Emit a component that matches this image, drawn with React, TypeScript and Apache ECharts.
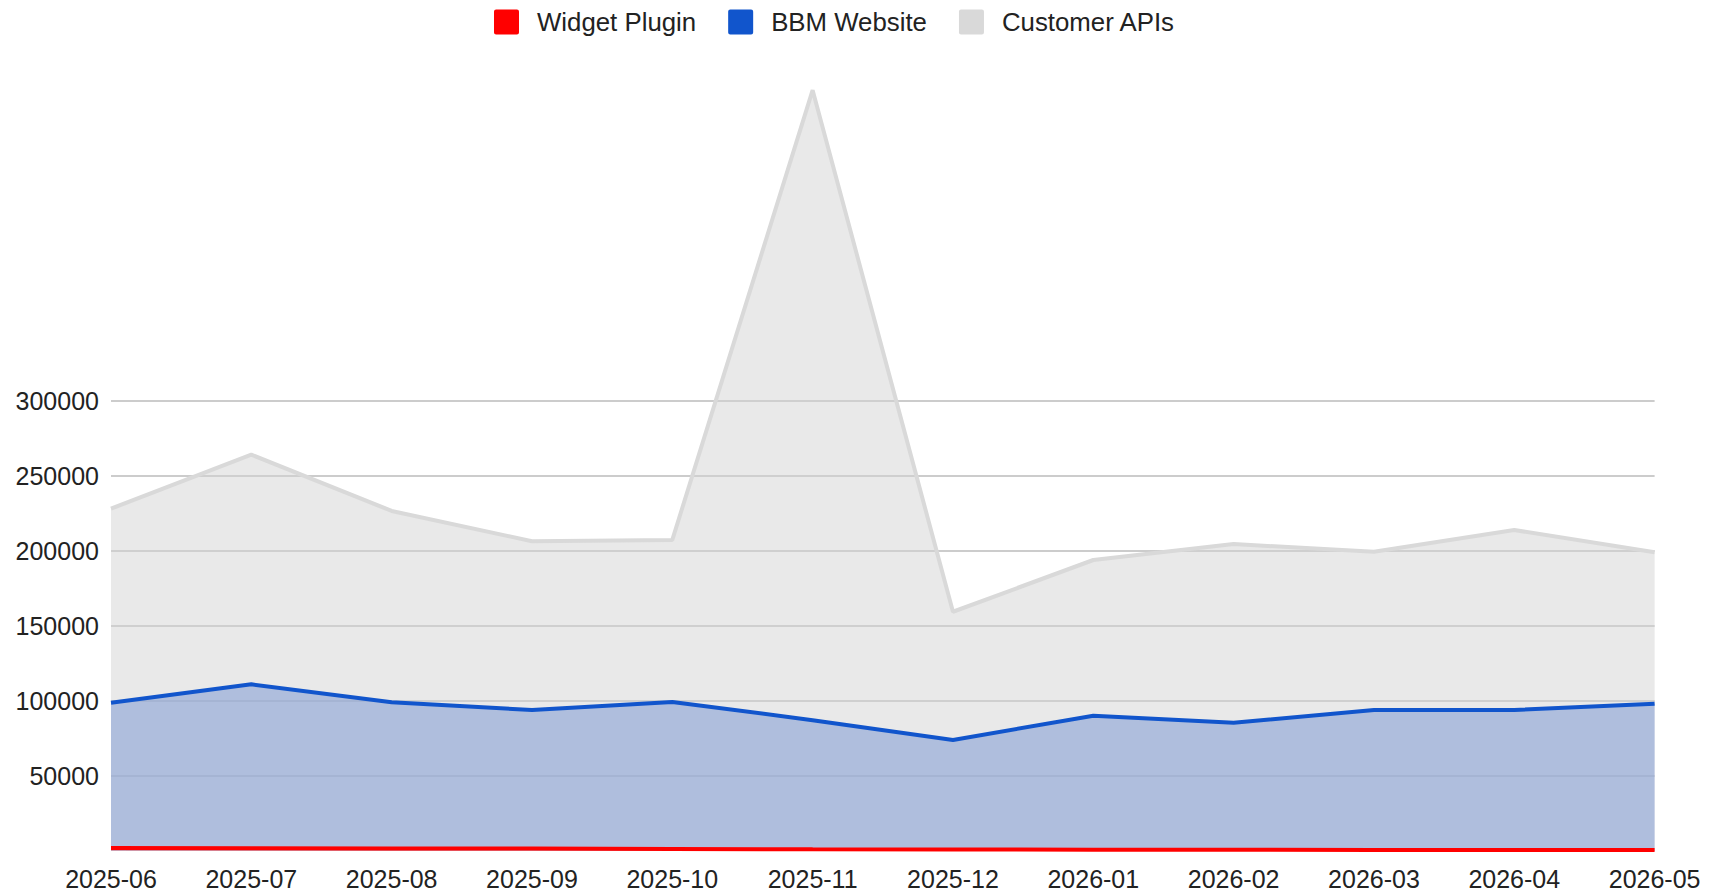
import React, { useEffect, useRef } from "react";
import * as echarts from "echarts";

const months = [
  "2025-06", "2025-07", "2025-08", "2025-09", "2025-10", "2025-11",
  "2025-12", "2026-01", "2026-02", "2026-03", "2026-04", "2026-05",
];
const widgetPlugin = [1800, 1600, 1500, 1400, 1100, 900, 800, 700, 600, 500, 500, 400];
const bbmWebsite = [98700, 110900, 98900, 93800, 99200, 87000, 73800, 90000, 85300, 93800, 93800, 98000];
const customerApis = [228000, 264000, 226500, 206300, 207200, 507000, 159300, 193800, 204400, 199300, 213800, 198900];
const seriesNames = ["Widget Plugin", "BBM Website", "Customer APIs"];
const yLabelMax = 300000;
const yStep = 50000;
const yMax = 550000;

const FONT = "'Liberation Sans', Arial, sans-serif";
const SQUARE =
  "path://M2,0H22A2,2,0,0,1,24,2V22A2,2,0,0,1,22,24H2A2,2,0,0,1,0,22V2A2,2,0,0,1,2,0Z";

export default function App() {
  const ref = useRef<HTMLDivElement>(null);
  useEffect(() => {
    if (!ref.current) return;
    const chart = echarts.init(ref.current, null, { renderer: "svg" });
    const tickCount = yMax / yStep + 1;
    const lineColors: string[] = [];
    for (let i = 0; i < tickCount; i++) {
      const v = i * yStep;
      lineColors.push(v > 0 && v <= yLabelMax ? "#cccccc" : "rgba(0,0,0,0)");
    }
    chart.setOption({
      animation: false,
      backgroundColor: "#ffffff",
      textStyle: { fontFamily: FONT },
      legend: {
        data: seriesNames,
        left: 489,
        top: 4,
        icon: SQUARE,
        itemWidth: 25,
        itemHeight: 25,
        itemGap: 32,
        selectedMode: false,
        textStyle: {
          fontSize: 25.8,
          color: "#222222",
          fontFamily: FONT,
          padding: [0, 0, 0, 13],
        },
      },
      grid: { left: 111, right: 65.4, top: 25.7, bottom: 45.3, containLabel: false },
      xAxis: {
        type: "category",
        data: months,
        boundaryGap: false,
        axisLine: { show: false },
        axisTick: { show: false },
        splitLine: { show: false },
        axisLabel: {
          interval: 0,
          margin: 16,
          fontSize: 25,
          color: "#222222",
          fontFamily: FONT,
        },
      },
      yAxis: {
        type: "value",
        min: 0,
        max: yMax,
        interval: yStep,
        axisLine: { show: false },
        axisTick: { show: false },
        axisLabel: {
          margin: 12,
          fontSize: 25,
          color: "#222222",
          fontFamily: FONT,
          formatter: (v: number) => (v > 0 && v <= yLabelMax ? String(v) : ""),
        },
        splitLine: { show: true, lineStyle: { color: lineColors, width: 2 } },
      },
      series: [
        {
          name: seriesNames[0],
          type: "line",
          data: widgetPlugin,
          z: 4,
          color: "#ff0000",
          symbol: "none",
          lineStyle: { color: "#ff0000", width: 4 },
          areaStyle: { color: "rgba(255,0,0,0.3)", opacity: 1 },
          emphasis: { disabled: true },
        },
        {
          name: seriesNames[1],
          type: "line",
          data: bbmWebsite,
          z: 3,
          color: "#1155cc",
          symbol: "none",
          lineStyle: { color: "#1155cc", width: 4 },
          areaStyle: { color: "rgba(136,161,213,0.6)", opacity: 1 },
          emphasis: { disabled: true },
        },
        {
          name: seriesNames[2],
          type: "line",
          data: customerApis,
          z: 2,
          color: "#d9d9d9",
          symbol: "none",
          lineStyle: { color: "#d9d9d9", width: 4 },
          areaStyle: { color: "rgba(210,210,210,0.49)", opacity: 1 },
          emphasis: { disabled: true },
        },
      ],
    });
    return () => chart.dispose();
  }, []);
  return (
    <div
      ref={ref}
      style={{ position: "fixed", left: 0, top: 0, width: 1720, height: 896 }}
    />
  );
}
